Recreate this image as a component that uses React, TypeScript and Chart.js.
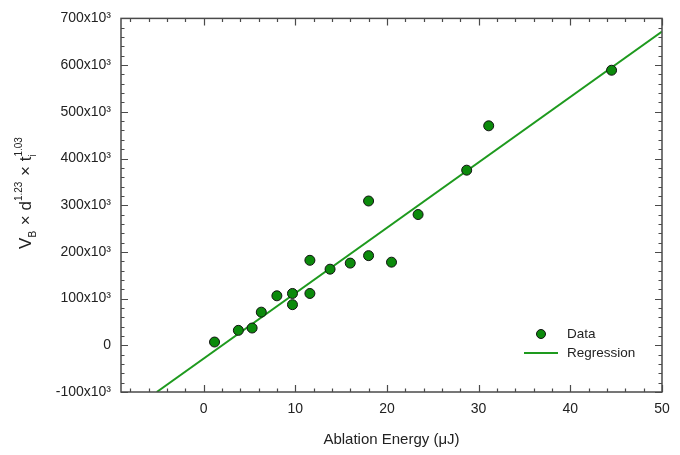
import React, { useEffect, useRef } from "react";
import { Chart, registerables } from "chart.js";

Chart.register(...registerables);

// ---- data ----
const energyX = [1.2, 3.8, 5.3, 6.3, 8.0, 9.7, 9.7, 11.6, 11.6, 13.8, 16.0, 18.0, 18.0, 20.5, 23.4, 28.7, 31.1, 44.5];
const productY = [7, 32, 37, 71, 106, 111, 87, 182, 111, 163, 176, 309, 192, 178, 280, 375, 470, 589]; // in units of 10^3
const regressionX = [-5.1, 50];
const regressionY = [-100, 672];
const xTickValues = [0, 10, 20, 30, 40, 50];
const yTickValues = [-100, 0, 100, 200, 300, 400, 500, 600, 700];

const FONT = "'Liberation Sans', Arial, sans-serif";
const GREEN_FILL = "#0b8a0b";
const GREEN_LINE = "#1e9a1e";
const AXIS_COLOR = "#4a4a4a";

const framePlugin = {
  id: "framePlugin",
  afterDraw(chart: any) {
    const { ctx, chartArea } = chart;
    const { left, right, top, bottom } = chartArea;
    const xs = chart.scales.x;
    const ys = chart.scales.y;
    ctx.save();
    ctx.strokeStyle = AXIS_COLOR;
    ctx.lineWidth = 1.5;
    ctx.strokeRect(left, top, right - left, bottom - top);
    ctx.lineWidth = 1.2;
    ctx.beginPath();
    // x ticks
    for (let v = -8; v <= 50; v += 2) {
      const px = Math.round(xs.getPixelForValue(v)) + 0.5;
      const len = v % 10 === 0 ? 7 : 3.5;
      ctx.moveTo(px, bottom);
      ctx.lineTo(px, bottom - len);
      ctx.moveTo(px, top);
      ctx.lineTo(px, top + len);
    }
    // y ticks
    for (let v = -100; v <= 700; v += 20) {
      const py = Math.round(ys.getPixelForValue(v)) + 0.5;
      const len = v % 100 === 0 ? 7 : 3.5;
      ctx.moveTo(left, py);
      ctx.lineTo(left + len, py);
      ctx.moveTo(right, py);
      ctx.lineTo(right - len, py);
    }
    ctx.stroke();

    // y axis title with sub/superscripts
    const big = 17;
    const small = 10;
    const segs: any[] = [
      { t: "V", s: big, dy: 0 },
      { t: "B", s: small, dy: 5 },
      { t: " \u00d7 d", s: big, dy: 0 },
      { t: "1.23", s: small, dy: -9 },
      { t: " \u00d7 t", s: big, dy: 0 },
    ];
    ctx.fillStyle = "#222";
    ctx.textBaseline = "alphabetic";
    ctx.textAlign = "left";
    let total = 0;
    for (const sg of segs) {
      ctx.font = `${sg.s}px ${FONT}`;
      sg.w = ctx.measureText(sg.t).width;
      total += sg.w + (sg.s === small ? 1 : 0);
    }
    ctx.font = `${small}px ${FONT}`;
    const supW = ctx.measureText("1.03").width;
    total += supW;
    ctx.translate(31, 193);
    ctx.rotate(-Math.PI / 2);
    let cx = -total / 2;
    for (const sg of segs) {
      ctx.font = `${sg.s}px ${FONT}`;
      ctx.fillText(sg.t, cx, sg.dy);
      cx += sg.w + (sg.s === small ? 1 : 0);
    }
    ctx.font = `${small}px ${FONT}`;
    ctx.fillText("i", cx, 5);
    ctx.fillText("1.03", cx, -9);
    ctx.restore();

    // legend
    ctx.save();
    const lx = right - 121;
    const ly1 = bottom - 58;
    const ly2 = bottom - 39;
    ctx.beginPath();
    ctx.arc(lx, ly1, 4.5, 0, Math.PI * 2);
    ctx.fillStyle = GREEN_FILL;
    ctx.fill();
    ctx.strokeStyle = "#111";
    ctx.lineWidth = 1;
    ctx.stroke();
    ctx.beginPath();
    ctx.strokeStyle = GREEN_LINE;
    ctx.lineWidth = 2;
    ctx.moveTo(lx - 17, ly2);
    ctx.lineTo(lx + 17, ly2);
    ctx.stroke();
    ctx.fillStyle = "#222";
    ctx.font = `13.5px ${FONT}`;
    ctx.textBaseline = "middle";
    ctx.textAlign = "left";
    ctx.fillText("Data", lx + 26, ly1);
    ctx.fillText("Regression", lx + 26, ly2);
    ctx.restore();
  },
};

export default function App() {
  const canvasRef = useRef<HTMLCanvasElement | null>(null);

  useEffect(() => {
    document.body.style.margin = "0";
    const canvas = canvasRef.current;
    if (!canvas) return;
    const points = energyX.map((x, i) => ({ x, y: productY[i] }));
    const line = regressionX.map((x, i) => ({ x, y: regressionY[i] }));
    const chart = new Chart(canvas, {
      type: "scatter",
      data: {
        datasets: [
          {
            label: "Data",
            data: points,
            order: 0,
            pointRadius: 5,
            pointHoverRadius: 5,
            backgroundColor: GREEN_FILL,
            borderColor: "#111",
            borderWidth: 1,
          },
          {
            label: "Regression",
            type: "line",
            data: line,
            order: 1,
            borderColor: GREEN_LINE,
            borderWidth: 2,
            pointRadius: 0,
            showLine: true,
            fill: false,
          } as any,
        ],
      },
      options: {
        animation: false,
        responsive: false,
        maintainAspectRatio: false,
        layout: { padding: { top: 13, right: 18, left: 0, bottom: 0 } },
        plugins: { legend: { display: false }, tooltip: { enabled: false } },
        scales: {
          x: {
            type: "linear",
            min: -9,
            max: 50,
            grid: { display: false, drawTicks: false, tickLength: 0 },
            border: { display: false },
            afterBuildTicks: (scale: any) => {
              scale.ticks = xTickValues.map((v) => ({ value: v }));
            },
            afterFit: (scale: any) => {
              scale.height = 63;
            },
            ticks: {
              padding: 9,
              color: "#222",
              font: { family: FONT, size: 14 },
              maxRotation: 0,
              callback: (v: any) => String(v),
            },
            title: {
              display: true,
              text: "Ablation Energy (\u03bcJ)",
              color: "#222",
              font: { family: FONT, size: 15 },
              padding: { top: 0, bottom: 6 },
            },
          },
          y: {
            type: "linear",
            min: -100,
            max: 700,
            grid: { display: false, drawTicks: false, tickLength: 0 },
            border: { display: false },
            afterBuildTicks: (scale: any) => {
              scale.ticks = yTickValues.map((v) => ({ value: v }));
            },
            afterFit: (scale: any) => {
              scale.width = 121;
            },
            ticks: {
              padding: 10,
              color: "#222",
              font: { family: FONT, size: 14 },
              callback: (v: any) => (v === 0 ? "0" : `${v}x10\u00b3`),
            },
          },
        },
      },
      plugins: [framePlugin],
    });
    return () => chart.destroy();
  }, []);

  return (
    <div style={{ width: 680, height: 455 }}>
      <canvas ref={canvasRef} width={680} height={455} style={{ width: 680, height: 455 }} />
    </div>
  );
}
